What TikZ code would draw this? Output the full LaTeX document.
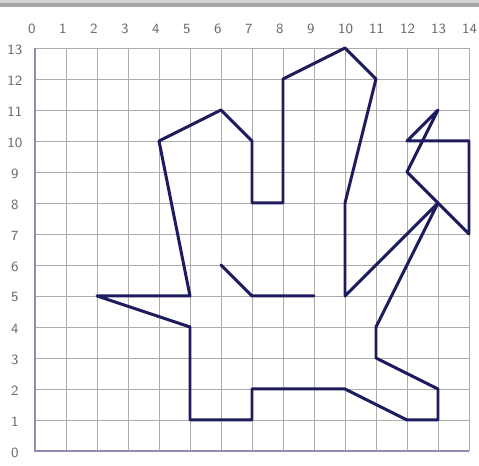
\documentclass[tikz,border=0pt]{standalone}
\usetikzlibrary{positioning}
\definecolor{navy}{HTML}{1C1C5E}
\definecolor{axisblue}{HTML}{8C8CB4}
\begin{document}
\begin{tikzpicture}
		[
	x=0.62cm, y=0.62cm,
	gridline/.style={draw=gray!65, line width=0.5pt},
	axisline/.style={draw=axisblue, line width=0.9pt},
	lbl/.style={font=\sffamily\footnotesize, text=gray!85!black, inner sep=0pt},
	outline/.style={draw=navy, line width=1.7pt, line join=round, line cap=round}
	]
		\useasboundingbox (-1.129,-0.484) rectangle (14.323,14.548);
		% header bar
		\fill[gray!35] (-1.129,14.548) rectangle (14.323,14.45);
		\fill[gray!70] (-1.129,14.45) rectangle (14.323,14.33);
	
		% grid
		\foreach \i in {0,...,14}
			\draw[gridline] (\i,0) -- (\i,13);
		\foreach \j in {0,...,13}
			\draw[gridline] (0,\j) -- (14,\j);
		\draw[axisline] (0,13) -- (0,0) -- (14,0);
	
		% axis labels
		\foreach \i in {0,...,14}
			\node[lbl,anchor=west] (xl\i) at (\i-0.23,13.62) {\i};
		\foreach \j in {0,...,13}
			\node[lbl] (yl\j) at (-0.65,\j-0.05) {\j};
	
		% figure
		\draw[outline] (2,5) -- (5,5) -- (4,10) -- (6,11) -- (7,10) -- (7,8) -- (8,8) -- (8,12) -- (10,13) -- (11,12) -- (10,8) -- (10,5) -- (13,8) -- (11,4) -- (11,3) -- (13,2) -- (13,1) -- (12,1) -- (10,2) -- (7,2) -- (7,1) -- (5,1) -- (5,4) -- cycle;
		\draw[outline] (13,8) -- (14,7) -- (14,10) -- (12,10) -- (13,11) -- (12,9) -- cycle;
		\draw[outline] (6,6) -- (7,5) -- (9,5);
	\end{tikzpicture}
\end{document}
